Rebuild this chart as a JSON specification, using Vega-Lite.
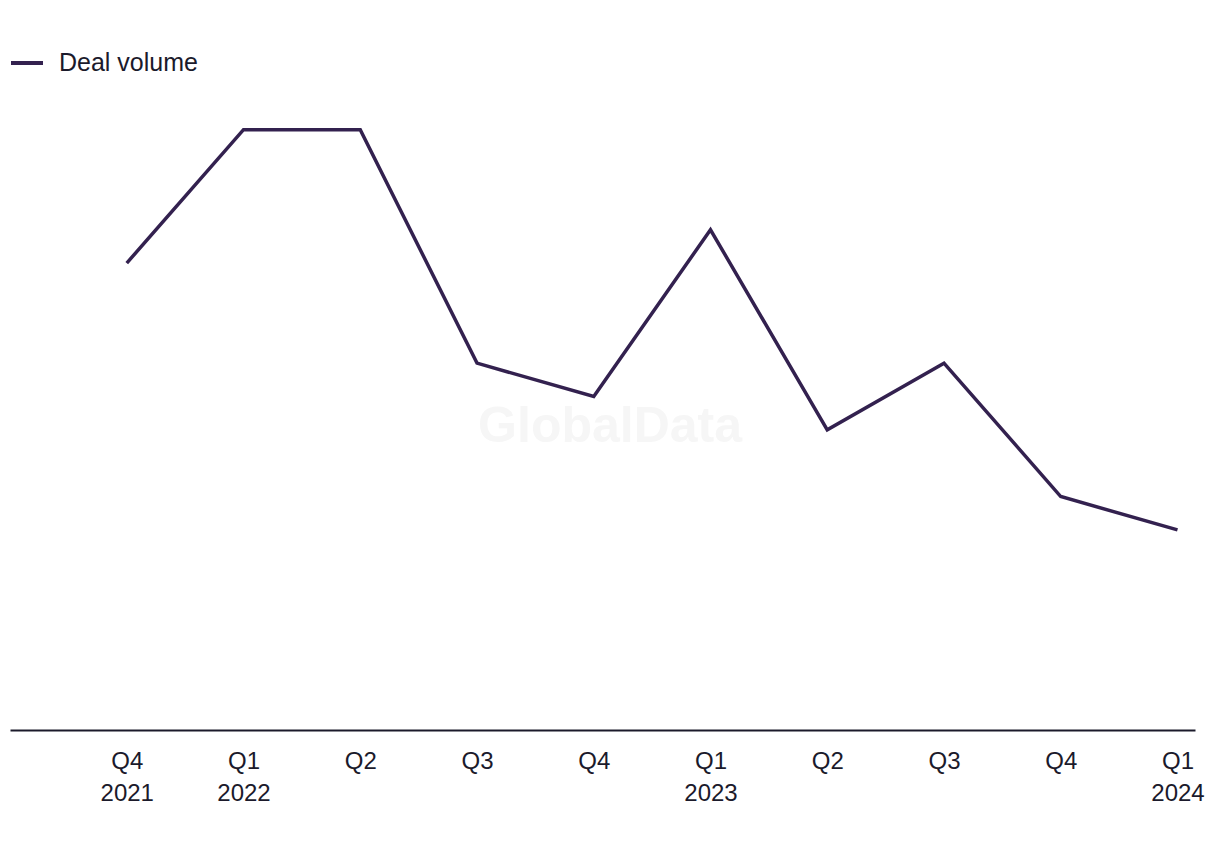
{
  "$schema": "https://vega.github.io/schema/vega-lite/v6.json",
  "width": 1185,
  "height": 667,
  "autosize": {"type": "none"},
  "padding": {"left": 10, "top": 63, "right": 25, "bottom": 120},
  "background": "white",
  "config": {"view": {"stroke": null}, "font": "Liberation Sans"},
  "data": {
    "values": [
      {"i": 1, "quarter": "Q4 2021", "volume": 14},
      {"i": 2, "quarter": "Q1 2022", "volume": 18},
      {"i": 3, "quarter": "Q2", "volume": 18},
      {"i": 4, "quarter": "Q3", "volume": 11},
      {"i": 5, "quarter": "Q4", "volume": 10},
      {"i": 6, "quarter": "Q1 2023", "volume": 15},
      {"i": 7, "quarter": "Q2", "volume": 9},
      {"i": 8, "quarter": "Q3", "volume": 11},
      {"i": 9, "quarter": "Q4", "volume": 7},
      {"i": 10, "quarter": "Q1 2024", "volume": 6}
    ]
  },
  "layer": [
    {
      "mark": {"type": "line", "strokeWidth": 3.5, "strokeJoin": "miter"},
      "encoding": {
        "x": {
          "field": "i",
          "type": "quantitative",
          "scale": {"domain": [0, 10.15], "nice": false, "zero": false},
          "axis": {
            "title": null,
            "values": [1, 2, 3, 4, 5, 6, 7, 8, 9, 10],
            "labelExpr": "split(split('x|Q4~2021|Q1~2022|Q2|Q3|Q4|Q1~2023|Q2|Q3|Q4|Q1~2024', '|')[datum.value], '~')",
            "grid": false,
            "ticks": false,
            "domainColor": "#1b1a2b",
            "domainWidth": 2,
            "labelFontSize": 24,
            "labelColor": "#1b1a2b",
            "labelPadding": 19,
            "labelLineHeight": 32,
            "labelBaseline": "top",
            "labelFlush": false,
            "labelOverlap": false,
            "labelBound": false
          }
        },
        "y": {
          "field": "volume",
          "type": "quantitative",
          "scale": {"domain": [0, 20], "nice": false},
          "axis": null
        },
        "color": {
          "datum": "Deal volume",
          "type": "nominal",
          "scale": {"range": ["#33214f"]},
          "legend": {
            "title": null,
            "orient": "none",
            "legendX": -1,
            "legendY": -18,
            "padding": 0,
            "symbolType": "stroke",
            "symbolSize": 1024,
            "symbolStrokeWidth": 4,
            "labelFontSize": 25,
            "labelColor": "#1b1a2b",
            "labelOffset": 14
          }
        }
      }
    },
    {
      "data": {"values": [{"wx": 5.14, "wy": 9.1, "txt": "GlobalData"}]},
      "mark": {"type": "text", "fontSize": 50, "fontWeight": "bold", "color": "#f6f6f6", "font": "Liberation Sans"},
      "encoding": {
        "x": {"field": "wx", "type": "quantitative"},
        "y": {"field": "wy", "type": "quantitative"},
        "text": {"field": "txt"}
      }
    }
  ]
}
